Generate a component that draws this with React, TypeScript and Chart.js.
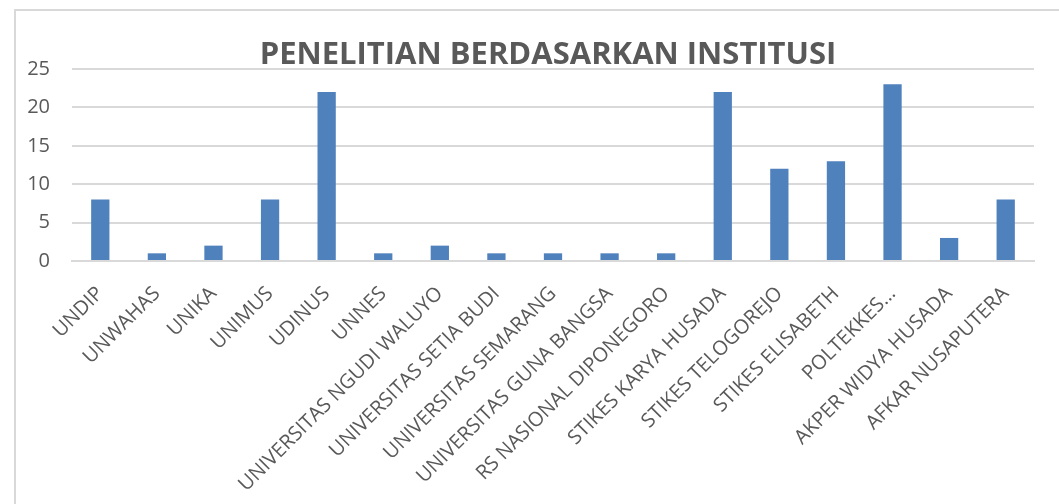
import React, { useEffect, useRef } from "react";
import { Chart, registerables } from "chart.js";

Chart.register(...registerables);

const categories = [
  "UNDIP",
  "UNWAHAS",
  "UNIKA",
  "UNIMUS",
  "UDINUS",
  "UNNES",
  "UNIVERSITAS NGUDI WALUYO",
  "UNIVERSITAS SETIA BUDI",
  "UNIVERSITAS SEMARANG",
  "UNIVERSITAS GUNA BANGSA",
  "RS NASIONAL DIPONEGORO",
  "STIKES KARYA HUSADA",
  "STIKES TELOGOREJO",
  "STIKES ELISABETH",
  "POLTEKKES…",
  "AKPER WIDYA HUSADA",
  "AFKAR NUSAPUTERA",
];

const values = [8, 1, 2, 8, 22, 1, 2, 1, 1, 1, 1, 22, 12, 13, 23, 3, 8];

const titleText = "PENELITIAN BERDASARKAN INSTITUSI";

const titlePlugin = {
  id: "customTitle",
  afterDraw(chart: any) {
    const { ctx, chartArea } = chart;
    ctx.save();
    ctx.fillStyle = "#595959";
    ctx.font = "bold 31px 'Open Sans', sans-serif";
    ctx.textAlign = "center";
    ctx.textBaseline = "middle";
    ctx.fillText(titleText, (chartArea.left + chartArea.right) / 2 - 5, chartArea.top - 14);
    ctx.restore();
  },
};

export default function App() {
  const ref = useRef<HTMLCanvasElement | null>(null);

  useEffect(() => {
    if (!ref.current) return;
    const chart = new Chart(ref.current, {
      type: "bar",
      data: {
        labels: categories,
        datasets: [
          {
            data: values,
            backgroundColor: "#4f81bd",
            borderWidth: 0,
            barPercentage: 0.323,
            categoryPercentage: 1,
          },
        ],
      },
      plugins: [titlePlugin],
      options: {
        animation: false,
        responsive: false,
        maintainAspectRatio: false,
        layout: { padding: { left: 0, right: 25, top: 69, bottom: 0 } },
        plugins: {
          legend: { display: false },
          tooltip: { enabled: false },
          title: { display: false },
        },
        scales: {
          x: {
            grid: { display: false, drawTicks: false },
            border: { display: true, color: "#d9d9d9", width: 2 },
            ticks: {
              autoSkip: false,
              maxRotation: 45,
              minRotation: 45,
              color: "#595959",
              padding: 21,
              font: { family: "'Open Sans', sans-serif", size: 20 },
            },
            afterFit: (scale: any) => {
              scale.height = 243;
            },
          },
          y: {
            min: 0,
            max: 25,
            ticks: {
              stepSize: 5,
              color: "#595959",
              padding: 22,
              font: { family: "'Open Sans', sans-serif", size: 20 },
            },
            grid: { color: "#d9d9d9", lineWidth: 2, drawTicks: false },
            border: { display: false },
            afterFit: (scale: any) => {
              scale.width = 72;
            },
          },
        },
      },
    });
    return () => chart.destroy();
  }, []);

  return (
    <div
      style={{
        position: "fixed",
        left: 0,
        top: 0,
        width: 1059,
        height: 504,
        overflow: "hidden",
        background: "#fff",
      }}
    >
      <div
        style={{
          position: "absolute",
          left: 14,
          top: 9,
          width: 1100,
          height: 600,
          border: "2px solid #d9d9d9",
        }}
      />
      <canvas
        ref={ref}
        width={1059}
        height={504}
        style={{ position: "absolute", left: 0, top: 0, width: 1059, height: 504 }}
      />
    </div>
  );
}
